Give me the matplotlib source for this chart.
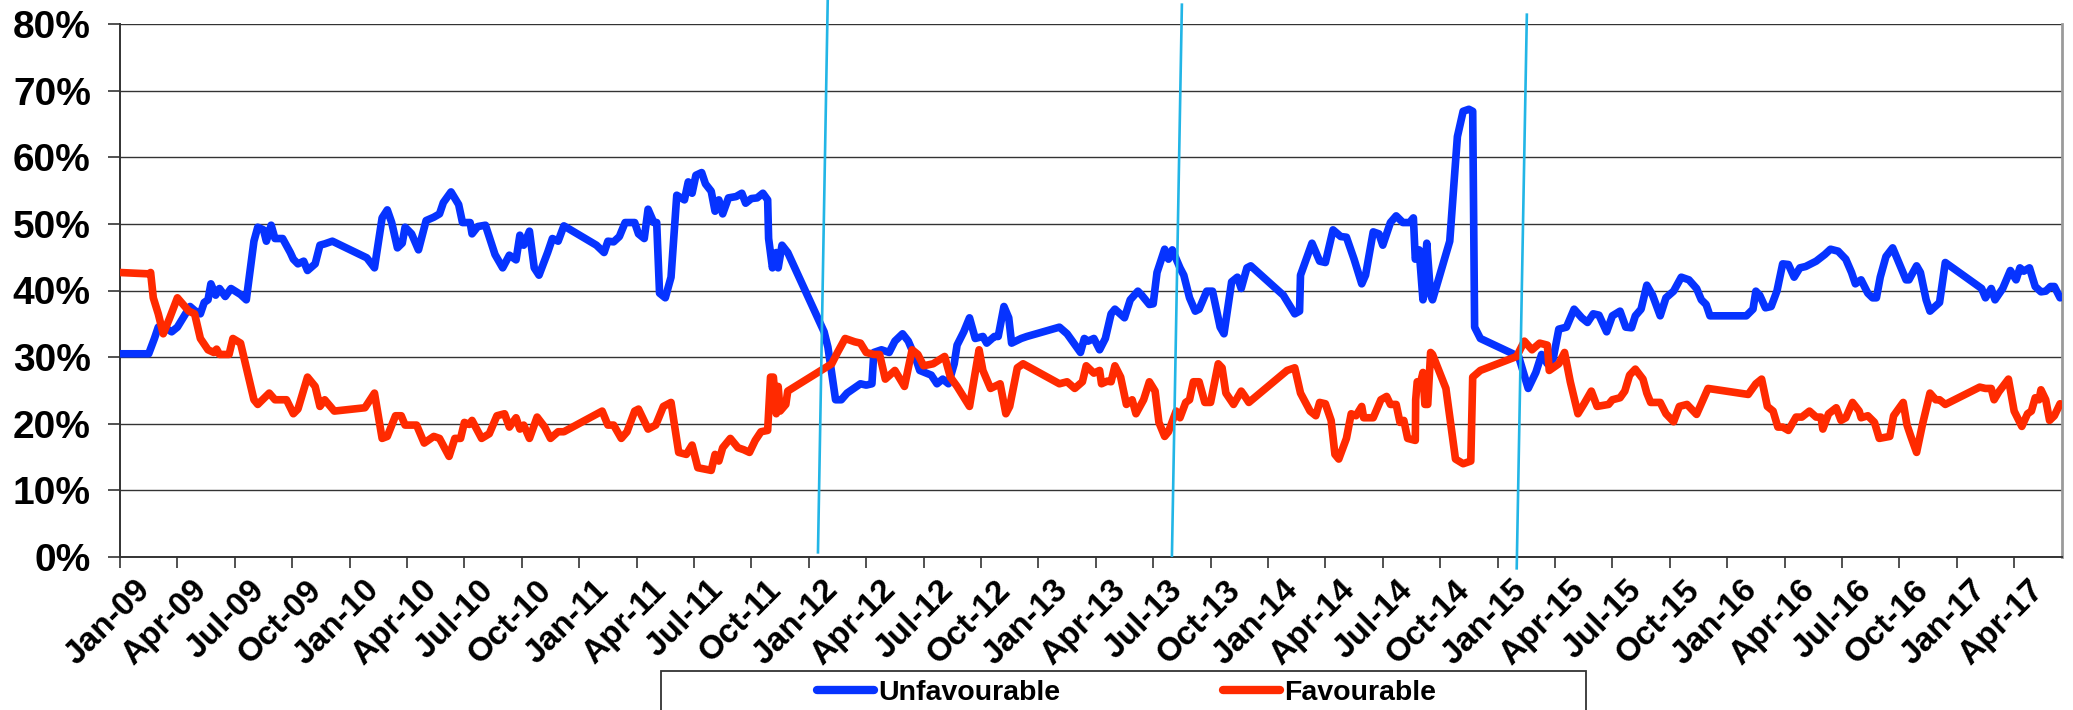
import matplotlib
matplotlib.use("Agg")
import matplotlib.pyplot as plt
from matplotlib.patches import Rectangle
from matplotlib.lines import Line2D
from matplotlib.transforms import ScaledTranslation

plt.rcParams['font.family'] = ['Liberation Sans', 'DejaVu Sans']
plt.rcParams['font.weight'] = 'bold'

BLUE = '#0633ff'
RED = '#ff2a00'
CYAN = '#22b5e6'

# months since Jan-09
unfav_month = [0.0, 1.5, 1.8, 2.0, 2.3, 2.7, 3.0, 3.3, 3.66, 3.9, 4.2, 4.4, 4.6, 4.75, 5.0, 5.2, 5.5, 5.8,
               6.3, 6.6, 7.0, 7.2, 7.5, 7.65, 7.9, 8.1, 8.5, 8.9, 9.06, 9.3, 9.6, 9.8, 10.2, 10.45, 10.7,
               11.1, 12.9, 13.3, 13.7, 13.97, 14.2, 14.5, 14.75, 14.9, 15.24, 15.6, 16.0, 16.4, 16.7, 16.9,
               17.3, 17.7, 17.9, 18.3, 18.4, 18.7, 19.1, 19.6, 20.0, 20.35, 20.7, 20.9, 21.1, 21.4, 21.65,
               21.9, 22.35, 22.6, 22.9, 23.2, 24.9, 25.3, 25.5, 25.8, 26.1, 26.4, 26.9, 27.1, 27.4, 27.6,
               27.9, 28.05, 28.2, 28.5, 28.8, 29.1, 29.5, 29.7, 29.9, 30.1, 30.4, 30.6, 30.9, 31.1, 31.3,
               31.5, 31.8, 32.2, 32.5, 32.7, 33.0, 33.3, 33.6, 33.85, 33.9, 34.1, 34.3, 34.4, 34.6, 34.9,
               36.8, 37.0, 37.4, 37.7, 38.0, 38.7, 39.0, 39.3, 39.4, 39.8, 40.2, 40.5, 40.9, 41.2, 41.6,
               41.8, 42.4, 42.7, 43.0, 43.3, 43.6, 43.75, 44.1, 44.4, 44.7, 45.1, 45.3, 45.7, 45.9, 46.2,
               46.45, 46.6, 47.1, 47.4, 49.1, 49.5, 49.85, 50.2, 50.4, 50.6, 50.9, 51.2, 51.5, 51.8, 52.0,
               52.5, 52.8, 53.2, 53.4, 53.8, 54.0, 54.2, 54.6, 54.8, 55.0, 55.4, 55.6, 55.9, 56.2, 56.4,
               56.8, 57.1, 57.5, 57.7, 58.1, 58.4, 58.6, 58.9, 59.1, 60.8, 61.1, 61.4, 61.65, 61.7, 62.3,
               62.7, 63.0, 63.4, 63.8, 64.1, 64.5, 64.9, 65.1, 65.5, 65.8, 66.0, 66.4, 66.7, 67.05, 67.4,
               67.6, 67.7, 67.9, 68.1, 68.3, 68.5, 68.6, 69.5, 69.9, 70.2, 70.5, 70.7, 70.8, 71.1, 73.1,
               73.6, 74.0, 74.3, 74.6, 74.9, 75.2, 75.6, 76.0, 76.4, 76.7, 77.0, 77.3, 77.7, 78.0, 78.4,
               78.7, 79.0, 79.2, 79.5, 79.8, 80.1, 80.5, 80.8, 81.2, 81.6, 82.0, 82.4, 82.65, 82.9, 83.1,
               85.0, 85.35, 85.5, 85.7, 86.0, 86.3, 86.6, 86.9, 87.2, 87.5, 87.8, 88.1, 88.65, 89.1, 89.4,
               89.8, 90.2, 90.5, 90.7, 91.0, 91.35, 91.6, 91.8, 92.0, 92.3, 92.65, 93.0, 93.35, 93.5, 93.9,
               94.1, 94.4, 94.6, 95.1, 95.4, 97.3, 97.5, 97.8, 98.0, 98.4, 98.8, 99.1, 99.3, 99.5, 99.8,
               100.1, 100.4, 100.65, 100.9, 101.1, 101.4]
unfav_pct = [30.5, 30.5, 32.8, 34.5, 34.5, 33.8, 34.5, 35.9, 37.6, 37.0, 36.5, 38.2, 38.6, 41.0, 39.3, 40.3, 39.1, 40.3,
             39.4, 38.6, 47.4, 49.5, 49.1, 47.4, 49.8, 47.8, 47.8, 45.7, 44.7, 44.0, 44.4, 43.0, 44.0, 46.8, 47.0,
             47.4, 44.9, 43.4, 50.9, 52.1, 50.2, 46.4, 47.1, 49.5, 48.5, 46.1, 50.5, 51.0, 51.5, 53.2,
             54.8, 52.9, 50.2, 50.2, 48.5, 49.6, 49.8, 45.4, 43.4, 45.3, 44.6, 48.3, 46.8, 48.9, 43.4,
             42.3, 45.7, 47.8, 47.4, 49.7, 46.8, 45.7, 47.4, 47.3, 48.1, 50.2, 50.2, 48.5, 47.8, 52.2,
             50.2, 50.2, 39.6, 38.9, 42.0, 54.3, 53.6, 56.3, 54.6, 57.3, 57.7, 56.0, 54.9, 51.9, 53.6,
             51.5, 53.9, 54.1, 54.6, 53.1, 53.8, 53.9, 54.6, 53.6, 47.8, 43.4, 45.7, 43.4, 46.8, 45.7,
             33.8, 31.5, 23.6, 23.6, 24.6, 26.0, 25.8, 26.0, 30.7, 31.1, 30.7, 32.4, 33.5, 32.4, 29.7,
             28.0, 27.3, 26.0, 26.7, 26.0, 29.0, 31.8, 33.8, 35.9, 32.8, 33.1, 32.1, 33.1, 33.1, 37.6,
             35.9, 32.1, 32.8, 33.1, 34.5, 33.5, 32.1, 30.7, 32.8, 32.4, 32.8, 31.1, 32.8, 36.5, 37.2,
             35.9, 38.6, 39.9, 39.3, 37.9, 38.0, 42.7, 46.2, 44.7, 46.1, 43.4, 42.3, 38.9, 36.9, 37.2,
             39.9, 39.9, 34.5, 33.5, 41.3, 42.0, 40.3, 43.4, 43.7, 39.3, 37.9, 36.5, 36.9, 42.3, 47.1,
             44.4, 44.2, 49.1, 48.1, 48.0, 44.7, 41.0, 42.3, 48.8, 48.5, 46.8, 50.2, 51.2, 50.2, 50.2,
             50.9, 44.7, 46.1, 38.6, 47.1, 39.3, 38.6, 47.4, 63.1, 66.9, 67.2, 66.9, 34.5, 32.8, 30.1,
             25.3, 27.7, 30.4, 29.0, 29.7, 34.2, 34.5, 37.2, 35.9, 35.2, 36.5, 36.3, 33.8, 36.2, 36.9,
             34.5, 34.4, 36.2, 37.2, 40.8, 39.3, 36.2, 38.9, 39.9, 42.0, 41.6, 40.3, 38.6, 37.9, 36.2,
             36.2, 37.2, 39.9, 39.3, 37.4, 37.6, 39.9, 44.0, 43.9, 42.0, 43.4, 43.6, 44.4, 45.4, 46.2,
             45.9, 44.7, 42.7, 41.0, 41.6, 39.6, 38.9, 38.9, 42.0, 45.1, 46.4, 44.0, 41.6, 41.6, 43.7,
             42.7, 38.6, 36.9, 38.2, 44.2, 40.3, 38.9, 40.3, 38.6, 40.3, 43.0, 41.6, 43.4, 42.9, 43.4,
             40.6, 39.8, 39.9, 40.6, 40.6, 38.9]

fav_month = [0.0, 1.5, 1.6, 1.74, 2.0, 2.26, 2.6, 3.0, 3.3, 3.6, 3.9, 4.2, 4.6, 4.9, 5.05, 5.2, 5.7, 5.9,
             6.3, 7.0, 7.2, 7.8, 8.1, 8.7, 9.06, 9.3, 9.8, 10.2, 10.45, 10.7, 11.2, 12.8, 13.3, 13.7, 13.97,
             14.4, 14.7, 14.9, 15.5, 15.9, 16.4, 16.7, 17.2, 17.5, 17.8, 18.0, 18.25, 18.4, 18.9, 19.3,
             19.7, 20.1, 20.35, 20.7, 20.9, 21.1, 21.4, 21.8, 22.2, 22.5, 22.9, 23.2, 25.2, 25.5, 25.8,
             26.2, 26.5, 26.9, 27.1, 27.6, 28.0, 28.4, 28.8, 29.2, 29.6, 29.9, 30.2, 30.9, 31.1, 31.3,
             31.5, 31.9, 32.3, 32.6, 32.9, 33.2, 33.5, 33.85, 34.0, 34.15, 34.3, 34.4, 34.5, 34.8, 34.9,
             37.2, 37.5, 37.9, 38.4, 38.7, 39.0, 39.4, 39.7, 40.0, 40.5, 41.0, 41.4, 41.7, 42.0, 42.5,
             43.1, 43.4, 43.75, 44.4, 44.6, 44.9, 45.1, 45.5, 46.0, 46.3, 46.5, 46.9, 47.2, 49.1, 49.5,
             49.9, 50.3, 50.5, 50.9, 51.2, 51.3, 51.6, 51.8, 52.0, 52.3, 52.6, 52.9, 53.1, 53.5, 53.8,
             54.1, 54.3, 54.6, 54.8, 55.2, 55.4, 55.7, 55.9, 56.1, 56.4, 56.7, 57.0, 57.4, 57.6, 57.8,
             58.2, 58.6, 58.75, 59.0, 61.0, 61.4, 61.7, 62.2, 62.5, 62.7, 63.0, 63.3, 63.5, 63.7, 64.1,
             64.35, 64.6, 64.9, 65.0, 65.5, 65.9, 66.2, 66.4, 66.7, 66.9, 67.1, 67.3, 67.7, 67.72, 67.8,
             67.95, 68.1, 68.2, 68.35, 68.5, 68.6, 69.3, 69.8, 70.2, 70.6, 70.7, 71.1, 73.0, 73.4, 73.8,
             74.2, 74.6, 74.7, 75.2, 75.5, 75.8, 76.2, 76.5, 76.9, 77.2, 77.8, 78.0, 78.4, 78.65, 78.9,
             79.2, 79.6, 79.8, 80.0, 80.5, 80.8, 81.2, 81.5, 81.9, 82.4, 83.0, 85.1, 85.5, 85.8, 86.1,
             86.4, 86.65, 86.9, 87.2, 87.6, 87.9, 88.3, 88.65, 88.9, 89.0, 89.3, 89.7, 89.95, 90.2, 90.55,
             90.9, 91.0, 91.35, 91.7, 91.95, 92.5, 92.7, 93.2, 93.4, 93.6, 93.9, 94.2, 94.6, 94.9, 95.1,
             95.4, 97.2, 97.5, 97.8, 97.95, 98.2, 98.7, 99.0, 99.4, 99.7, 99.9, 100.1, 100.3, 100.4, 100.65,
             100.85, 101.1, 101.4]
fav_pct = [42.7, 42.5, 42.7, 38.9, 36.5, 33.5, 35.9, 38.9, 37.9, 36.9, 36.5, 32.8, 31.1, 30.7, 31.2, 30.4, 30.4, 32.8,
           32.1, 23.6, 22.9, 24.6, 23.6, 23.6, 21.5, 22.2, 27.0, 25.6, 22.6, 23.6, 21.9, 22.4, 24.6, 17.8, 18.1,
           21.2, 21.2, 19.8, 19.8, 17.1, 18.1, 17.8, 15.1, 17.8, 17.8, 20.2, 19.9, 20.5, 17.8, 18.5,
           21.2, 21.5, 19.5, 20.9, 19.2, 19.8, 17.8, 21.0, 19.5, 17.8, 18.8, 18.8, 21.9, 19.8, 19.8,
           17.8, 18.8, 21.9, 22.2, 19.2, 19.8, 22.6, 23.2, 15.7, 15.4, 16.8, 13.4, 13.0, 15.4, 14.4,
           16.4, 17.8, 16.4, 16.1, 15.7, 17.5, 18.8, 19.0, 27.0, 27.0, 21.5, 25.6, 21.9, 22.9, 24.9,
           29.0, 30.7, 32.8, 32.3, 32.1, 30.7, 30.4, 30.4, 26.7, 28.0, 25.6, 31.1, 30.4, 28.7, 29.0,
           30.1, 27.0, 25.6, 22.6, 26.0, 31.1, 28.0, 25.3, 26.0, 21.5, 22.6, 28.4, 29.0, 26.0, 26.3,
           25.3, 26.3, 28.7, 27.6, 28.0, 26.0, 26.4, 26.3, 28.7, 27.0, 22.9, 23.6, 21.5, 23.6, 26.3,
           24.9, 20.2, 18.1, 18.8, 21.9, 20.9, 23.2, 23.6, 26.3, 26.3, 23.2, 23.2, 29.0, 28.4, 24.6,
           22.9, 24.9, 24.3, 23.2, 28.0, 28.4, 24.6, 21.9, 21.2, 23.2, 23.0, 20.5, 15.4, 14.7, 17.8,
           21.5, 21.2, 22.6, 20.9, 20.9, 23.6, 24.1, 22.9, 22.9, 20.2, 20.5, 17.8, 17.5, 23.6, 26.3,
           25.9, 27.7, 22.9, 22.9, 30.7, 30.4, 25.3, 14.7, 14.0, 14.4, 27.0, 28.0, 30.1, 32.4, 31.1,
           32.1, 31.8, 28.0, 29.0, 30.7, 26.3, 21.5, 22.9, 24.9, 22.6, 22.9, 23.6, 23.9, 24.9, 27.3,
           28.2, 26.7, 24.6, 23.2, 23.2, 21.5, 20.3, 22.6, 22.9, 21.4, 25.3, 24.4, 26.0, 26.7, 22.6,
           21.9, 19.5, 19.5, 19.0, 21.0, 21.0, 21.9, 21.0, 21.0, 19.2, 21.5, 22.4, 20.5, 20.9, 23.2,
           21.9, 20.9, 21.2, 20.2, 17.8, 18.1, 21.2, 23.2, 19.8, 18.1, 15.7, 19.8, 24.6, 23.6, 23.6,
           22.9, 25.5, 25.3, 25.3, 23.6, 24.8, 26.7, 21.9, 19.6, 21.5, 21.9, 23.9, 23.6, 25.1, 23.6,
           20.5, 21.2, 23.0]

# slanted cyan marker lines: (month, pct) at bottom and top
marker_month = [(36.48, 36.99), (54.98, 55.50), (73.00, 73.53)]
marker_pct = [(0.7, 83.6), (0.2, 82.9), (-1.7, 81.4)]

tick_months = list(range(0, 100, 3))
tick_labels = ['Jan-09', 'Apr-09', 'Jul-09', 'Oct-09', 'Jan-10', 'Apr-10', 'Jul-10', 'Oct-10',
               'Jan-11', 'Apr-11', 'Jul-11', 'Oct-11', 'Jan-12', 'Apr-12', 'Jul-12', 'Oct-12',
               'Jan-13', 'Apr-13', 'Jul-13', 'Oct-13', 'Jan-14', 'Apr-14', 'Jul-14', 'Oct-14',
               'Jan-15', 'Apr-15', 'Jul-15', 'Oct-15', 'Jan-16', 'Apr-16', 'Jul-16', 'Oct-16',
               'Jan-17', 'Apr-17']
y_ticks = [0, 10, 20, 30, 40, 50, 60, 70, 80]

W, H = 2073, 710
fig = plt.figure(figsize=(W / 100, H / 100), dpi=100)
ax = fig.add_axes([120 / W, 1 - 557 / H, (2062 - 120) / W, (557 - 24) / H])

ax.plot(unfav_month, unfav_pct, color=BLUE, lw=5.5, solid_joinstyle='round', solid_capstyle='round', zorder=3)
ax.plot(fav_month, fav_pct, color=RED, lw=5.5, solid_joinstyle='round', solid_capstyle='round', zorder=4)
for mm, pp in zip(marker_month, marker_pct):
    ax.plot(mm, pp, color=CYAN, lw=1.9, clip_on=False, zorder=5)

ax.set_xlim(0, 101.5)
ax.set_ylim(0, 80)
ax.set_yticks(y_ticks)
ax.set_yticklabels([f'{v}%' for v in y_ticks], fontsize=28, fontweight='bold')
ax.set_xticks(tick_months)
ax.set_xticklabels(tick_labels, fontsize=24, fontweight='bold', rotation=45,
                   ha='right', va='top', rotation_mode='anchor')
ax.tick_params(axis='y', length=9, width=1.2, color='#333333', pad=12)
ax.tick_params(axis='x', length=8, width=1.2, color='#333333', pad=4.5)
for lbl in ax.get_xticklabels():
    lbl.set_transform(lbl.get_transform() + ScaledTranslation(0.14, 0, fig.dpi_scale_trans))

ax.grid(axis='y', color='#333333', lw=1.0, zorder=1)
ax.spines['top'].set_visible(False)
ax.spines['right'].set_color('#9a9a9a')
ax.spines['right'].set_linewidth(2)
ax.spines['left'].set_color('#333333')
ax.spines['left'].set_linewidth(1.4)
ax.spines['bottom'].set_color('#333333')
ax.spines['bottom'].set_linewidth(1.4)

# legend box running off the bottom of the figure
fig.add_artist(Rectangle((661 / W, -0.1), (1586 - 661) / W, (1 - 671 / H) + 0.1,
                         transform=fig.transFigure, fill=False, edgecolor='#333333', lw=1.3))
handles = [Line2D([], [], color=BLUE, lw=6, solid_capstyle='round'),
           Line2D([], [], color=RED, lw=6, solid_capstyle='round')]
fig.legend(handles, ['Unfavourable', 'Favourable'], loc='center',
           bbox_to_anchor=(1126.5 / W, 1 - 693 / H), ncol=2, frameon=False,
           prop={'size': 20.5, 'weight': 'bold'}, handlelength=2.0, handletextpad=0.15,
           columnspacing=5.7)

fig.savefig('out.png', dpi=100)
